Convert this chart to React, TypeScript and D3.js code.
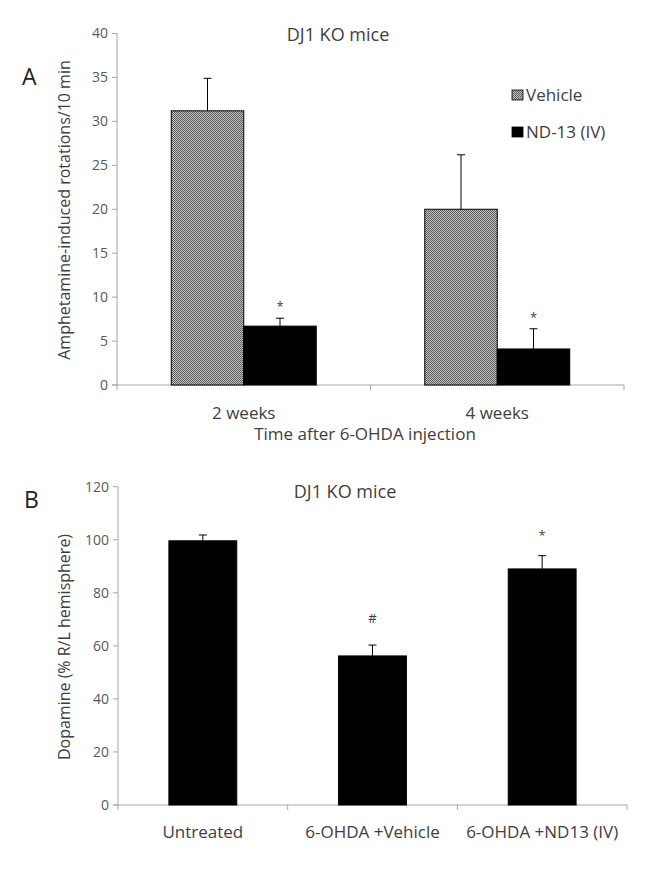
import React, { useEffect, useRef } from 'react';
import * as d3 from 'd3';

// Panel A: rotations
const weekCats = ['2 weeks', '4 weeks'];
const seriesNames = ['Vehicle', 'ND-13 (IV)'];
const vehicleVals = [31.2, 20.0];
const vehicleErr = [3.7, 6.2];
const nd13Vals = [6.7, 4.1];
const nd13Err = [0.9, 2.3];
const nd13Marks = ['*', '*'];
const aTicks = [0, 5, 10, 15, 20, 25, 30, 35, 40];

// Panel B: dopamine
const treatCats = ['Untreated', '6-OHDA +Vehicle', '6-OHDA +ND13 (IV)'];
const dopVals = [99.6, 56.2, 89.0];
const dopErr = [2.2, 4.1, 5.0];
const dopMarks = ['', '#', '*'];
const bTicks = [0, 20, 40, 60, 80, 100, 120];

const FONT = '"Open Sans", "Noto Sans", sans-serif';
const AXIS = '#a6a6a6';
const TICKTXT = '#595959';
const TXT = '#404040';

export default function App() {
  const ref = useRef<SVGSVGElement>(null);

  useEffect(() => {
    const svg = d3.select(ref.current);
    svg.selectAll('*').remove();
    svg.attr('font-family', FONT);

    const defs = svg.append('defs');
    const pat = defs.append('pattern').attr('id', 'dots').attr('width', 2).attr('height', 2).attr('patternUnits', 'userSpaceOnUse');
    pat.append('rect').attr('width', 2).attr('height', 2).attr('fill', '#c4c4c4');
    pat.append('rect').attr('width', 1).attr('height', 1).attr('fill', '#5a5a5a');
    pat.append('rect').attr('x', 1).attr('y', 1).attr('width', 1).attr('height', 1).attr('fill', '#5a5a5a');

    const drawAxes = (g: any, xr: number[], y: any, ticks: number[], nCats: number) => {
      const [x0, x1] = xr;
      const [yb, yt] = y.range();
      g.append('line').attr('x1', x0).attr('x2', x0).attr('y1', yb).attr('y2', yt).attr('stroke', AXIS);
      g.append('line').attr('x1', x0 - 5).attr('x2', x1).attr('y1', yb).attr('y2', yb).attr('stroke', AXIS);
      ticks.forEach(t => {
        g.append('line').attr('x1', x0 - 5).attr('x2', x0).attr('y1', y(t)).attr('y2', y(t)).attr('stroke', AXIS);
        g.append('text').attr('x', x0 - 9).attr('y', y(t)).attr('dy', '0.35em').attr('text-anchor', 'end')
          .attr('font-size', 14).attr('fill', TICKTXT).text(t);
      });
      const step = (x1 - x0) / nCats;
      for (let i = 0; i <= nCats; i++) {
        const xx = x0 + i * step;
        g.append('line').attr('x1', xx).attr('x2', xx).attr('y1', yb).attr('y2', yb + 5).attr('stroke', AXIS);
      }
    };

    const errBar = (g: any, cx: number, yTop: number, yErr: number) => {
      g.append('line').attr('x1', cx).attr('x2', cx).attr('y1', yTop).attr('y2', yErr).attr('stroke', '#000').attr('stroke-width', 1);
      g.append('line').attr('x1', cx - 4).attr('x2', cx + 4).attr('y1', yErr).attr('y2', yErr).attr('stroke', '#000').attr('stroke-width', 1);
    };

    // ---- Panel A
    const gA = svg.append('g');
    const xA = d3.scaleBand().domain(weekCats).range([117, 624]);
    const yA = d3.scaleLinear().domain([0, 40]).range([385, 33.5]);
    const xSub = d3.scaleBand().domain(seriesNames).range([0, 145]);
    drawAxes(gA, [117, 624], yA, aTicks, weekCats.length);

    weekCats.forEach((c, i) => {
      const gx = xA(c)! + xA.bandwidth() / 2 - 72.5;
      const vals = [vehicleVals[i], nd13Vals[i]];
      const errs = [vehicleErr[i], nd13Err[i]];
      seriesNames.forEach((s, j) => {
        const bx = gx + xSub(s)!;
        gA.append('rect').attr('x', bx).attr('y', yA(vals[j])).attr('width', xSub.bandwidth()).attr('height', yA(0) - yA(vals[j]))
          .attr('fill', j === 0 ? 'url(#dots)' : '#000').attr('stroke', '#000').attr('stroke-width', 1);
        const cx = bx + xSub.bandwidth() / 2;
        errBar(gA, cx, yA(vals[j]), yA(vals[j] + errs[j]));
      });
      const cx2 = gx + xSub(seriesNames[1])! + xSub.bandwidth() / 2;
      gA.append('text').attr('x', cx2).attr('y', yA(nd13Vals[i] + nd13Err[i]) - 7).attr('text-anchor', 'middle')
        .attr('font-size', 13).attr('fill', TXT).text(nd13Marks[i]);
      gA.append('text').attr('x', xA(c)! + xA.bandwidth() / 2).attr('y', 413).attr('dy', '0.35em').attr('text-anchor', 'middle')
        .attr('font-size', 17).attr('fill', TXT).text(c);
    });

    gA.append('text').attr('x', 365).attr('y', 434).attr('dy', '0.35em').attr('text-anchor', 'middle')
      .attr('font-size', 17).attr('fill', TXT).text('Time after 6-OHDA injection');
    gA.append('text').attr('x', 338).attr('y', 41).attr('text-anchor', 'middle').attr('font-size', 18).attr('fill', TXT).text('DJ1 KO mice');
    gA.append('text').attr('x', 22).attr('y', 85).attr('font-size', 23).attr('fill', '#222').text('A');
    gA.append('text').attr('transform', 'translate(64,210) rotate(-90)').attr('dy', '0.35em').attr('text-anchor', 'middle')
      .attr('font-size', 16).attr('fill', TXT).text('Amphetamine-induced rotations/10 min');

    // legend
    seriesNames.forEach((s, j) => {
      const ly = 95 + j * 37;
      gA.append('rect').attr('x', 512).attr('y', ly - 5).attr('width', 11).attr('height', 10)
        .attr('fill', j === 0 ? 'url(#dots)' : '#000').attr('stroke', '#000').attr('stroke-width', 0.8);
      gA.append('text').attr('x', 526).attr('y', ly).attr('dy', '0.35em').attr('font-size', 17).attr('fill', TXT).text(s);
    });

    // ---- Panel B
    const gB = svg.append('g');
    const xB = d3.scaleBand().domain(treatCats).range([118, 627]).paddingInner(0.6).paddingOuter(0.3);
    const yB = d3.scaleLinear().domain([0, 120]).range([805, 486.7]);
    drawAxes(gB, [118, 627], yB, bTicks, treatCats.length);

    treatCats.forEach((c, i) => {
      const bx = xB(c)!;
      const bw = xB.bandwidth();
      gB.append('rect').attr('x', bx).attr('y', yB(dopVals[i])).attr('width', bw).attr('height', yB(0) - yB(dopVals[i]))
        .attr('fill', '#000').attr('stroke', '#000');
      errBar(gB, bx + bw / 2, yB(dopVals[i]), yB(dopVals[i] + dopErr[i]));
      if (dopMarks[i]) {
        gB.append('text').attr('x', bx + bw / 2).attr('y', yB(dopVals[i] + dopErr[i]) - (dopMarks[i] === '#' ? 22 : 16)).attr('text-anchor', 'middle')
          .attr('font-size', 13).attr('fill', TXT).text(dopMarks[i]);
      }
      gB.append('text').attr('x', 118 + (i + 0.5) * (509 / 3)).attr('y', 832).attr('dy', '0.35em').attr('text-anchor', 'middle')
        .attr('font-size', 17).attr('fill', TXT).text(c);
    });

    gB.append('text').attr('x', 345).attr('y', 498).attr('text-anchor', 'middle').attr('font-size', 18).attr('fill', TXT).text('DJ1 KO mice');
    gB.append('text').attr('x', 24).attr('y', 508).attr('font-size', 23).attr('fill', '#222').text('B');
    gB.append('text').attr('transform', 'translate(64,647) rotate(-90)').attr('dy', '0.35em').attr('text-anchor', 'middle')
      .attr('font-size', 16).attr('fill', TXT).text('Dopamine (% R/L hemisphere)');
  }, []);

  return <svg ref={ref} width={651} height={884} style={{ position: 'absolute', left: 0, top: 0, background: '#fff' }} />;
}
